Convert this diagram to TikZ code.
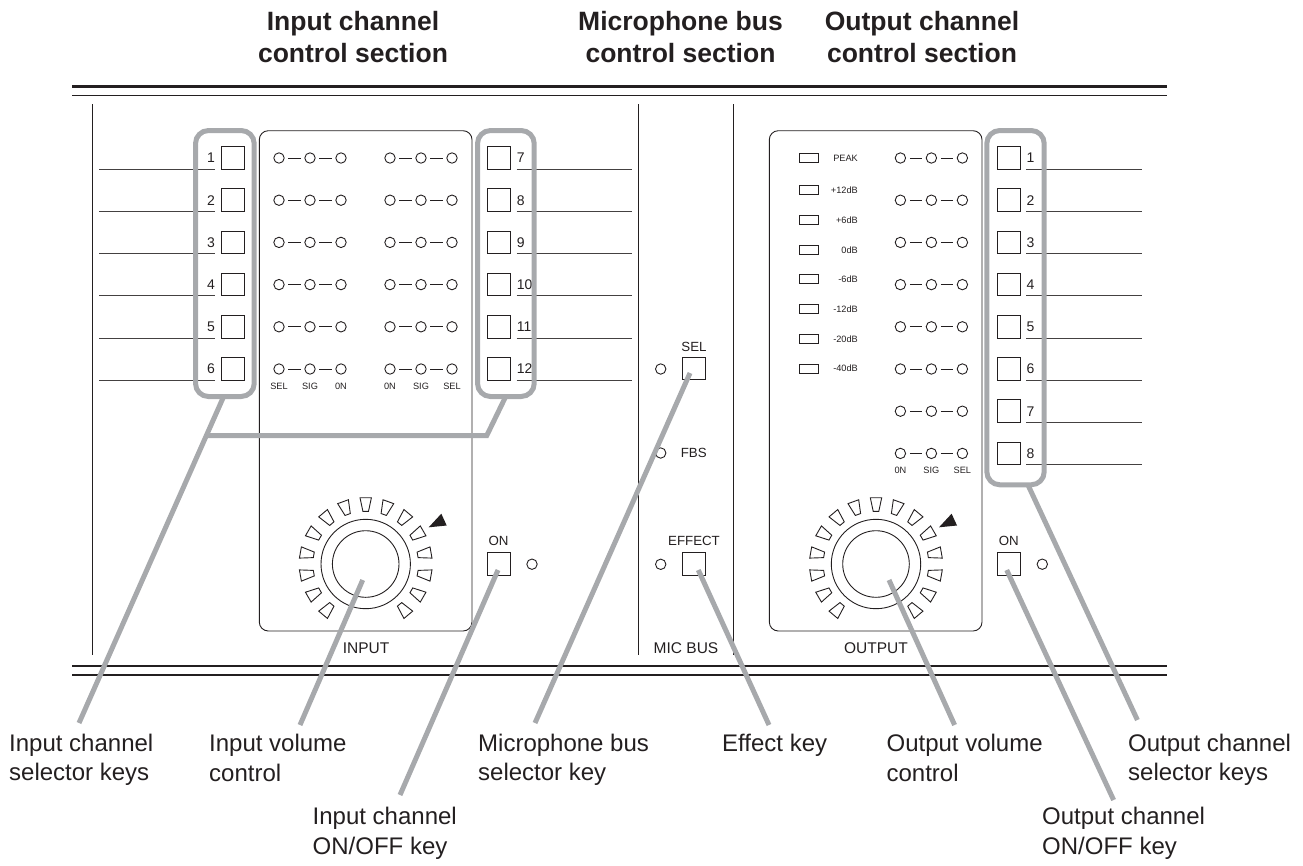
\documentclass[tikz,border=0pt]{standalone}
\usepackage{fontspec}
\setmainfont{Liberation Sans}
\usetikzlibrary{positioning,calc}
\definecolor{inkc}{HTML}{231F20}
\definecolor{callc}{HTML}{A7A9AC}
\tikzset{
  keybox/.style={draw=inkc,line width=1pt,minimum size=22.6pt,inner sep=0pt,outer sep=0pt},
  led/.style={circle,draw=inkc,line width=0.9pt,minimum size=10.4pt,inner sep=0pt,outer sep=0pt},
  ledlink/.style={draw=inkc,line width=0.9pt,shorten <=4.2pt,shorten >=4.2pt},
  meter/.style={draw=inkc,line width=1pt,minimum width=19pt,minimum height=9pt,inner sep=0pt,outer sep=0pt},
  leader/.style={draw=inkc!85,line width=1pt},
  panel/.style={draw=inkc,line width=0.9pt,rounded corners=9pt},
  divider/.style={draw=inkc,line width=1pt},
  callout/.style={draw=callc,line width=5pt},
  callbox/.style={draw=callc,line width=5pt,rounded corners=13pt},
  tiny/.style={font=\fontsize{9.2}{10}\selectfont,text=inkc,inner sep=0pt},
  keynum/.style={font=\fontsize{14}{16}\selectfont,text=inkc,inner sep=0pt},
  small/.style={font=\fontsize{13.3}{15}\selectfont,text=inkc,inner sep=0pt},
  sect/.style={font=\fontsize{15.5}{17}\selectfont,text=inkc,inner sep=0pt},
  head/.style={font=\bfseries\fontsize{26.5}{32}\selectfont,text=inkc,align=center,inner sep=0pt},
  caption/.style={font=\fontsize{24}{29.5}\selectfont,text=inkc,align=left,inner sep=0pt,anchor=west},
}
\begin{document}
\begin{tikzpicture}[x=1pt,y=-1pt]
\useasboundingbox (0,0) rectangle (1303,865);

% Section titles
\node[head] (headin) at (353,37.5) {Input channel\\control section};
\node[head] (headmic) at (680.5,37.5) {Microphone bus\\control section};
\node[head] (headout) at (922,37.5) {Output channel\\control section};

% Rails and dividers
\draw[inkc,line width=2.6pt] (72,86.5) -- (1167,86.5);
\draw[divider,line width=1.2pt] (72,95.7) -- (1167,95.7);
\draw[divider,line width=1.2pt] (72,666) -- (1167,666);
\draw[inkc,line width=2.6pt] (72,675) -- (1167,675);
\foreach \x in {92.7,638.3,733.3}
  \draw[divider] (\x,104) -- (\x,655);

% Panels
\draw[panel] (259.3,130.7) rectangle (472,631);
\draw[panel] (769.3,130.7) rectangle (982,631);
\node[sect] (inputlab) at (366,648.5) {INPUT};
\node[sect] (micbuslab) at (686,648.5) {MIC BUS};
\node[sect] (outputlab) at (876,648.5) {OUTPUT};

% Input keys
\foreach \n [evaluate=\n as \y using 158+42.2*(\n-1)] in {1,...,6}
{
  \node[keybox] (inkey\n) at (232.7,\y) {};
  \node[keynum,anchor=east] (innum\n) at (215,\y) {\n};
  \draw[leader] (99.3,\y+11.2) -- (215,\y+11.2);
}
\foreach \n [evaluate=\n as \y using 158+42.2*(\n-7)] in {7,...,12}
{
  \node[keybox] (inkey\n) at (498.7,\y) {};
  \node[keynum,anchor=west] (innum\n) at (516.7,\y) {\n};
  \draw[leader] (516.7,\y+11.2) -- (632,\y+11.2);
}

% Output keys
\foreach \n [evaluate=\n as \y using 158+42.2*(\n-1)] in {1,...,8}
{
  \node[keybox] (outkey\n) at (1008.8,\y) {};
  \node[keynum,anchor=west] (outnum\n) at (1026.4,\y) {\n};
  \draw[leader] (1026.4,\y+11.2) -- (1142,\y+11.2);
}

% Signal lamps
\foreach \n [evaluate=\n as \y using 158+42.2*(\n-1)] in {1,...,8}
  \foreach \x/\col in {279/a,390/b,900.4/c}
  {
    \pgfmathtruncatemacro{\shown}{(\n<7)||(\x>800)}
    \ifnum\shown=1
      \node[led] (\col\n l) at (\x,\y) {};
      \node[led] (\col\n m) at (\x+31,\y) {};
      \node[led] (\col\n r) at (\x+62,\y) {};
      \draw[ledlink] (\col\n l) -- (\col\n m);
      \draw[ledlink] (\col\n m) -- (\col\n r);
    \fi
  }
\foreach \x/\t [count=\i] in {279/SEL,310/SIG,341/0N,390/0N,421/SIG,452/SEL}
  \node[tiny] (inled\i) at (\x,386) {\t};
\foreach \x/\t [count=\i] in {900.4/0N,931.4/SIG,962.4/SEL}
  \node[tiny] (outled\i) at (\x,470) {\t};

% Level meter
\foreach \y/\t [count=\i] in {158/PEAK,190/+12dB,220/+6dB,250/0dB,279.3/-6dB,309.3/-12dB,339.3/-20dB,368.7/-40dB}
{
  \node[meter] (meter\i) at (809.3,\y) {};
  \node[tiny,anchor=east] (meterlab\i) at (858,\y) {\t};
}

% Volume knobs
\foreach \cx/\name in {365.7/inknob,876/outknob}
{
  \begin{scope}[shift={(\cx,564)}]
    \draw[inkc,line width=0.9pt] (0,0) circle[radius=44.7pt];
    \draw[inkc,line width=0.9pt] (0,0) circle[radius=33.3pt];
    \foreach \a in {-140,-120,...,140}
      \draw[inkc,line width=0.9pt,rotate=\a] (-5.7,-66.3) -- (5.7,-66.3) -- (2.8,-52.7) -- (-2.8,-52.7) -- cycle;
    \fill[inkc] (63,-36.7) -- (75.6,-50.3) -- (81,-38.5) -- cycle;
  \end{scope}
}

% ON keys
\node[keybox] (inon) at (499,564.2) {};
\node[small] (inonlab) at (498.5,541) {ON};
\node[led] (inonled) at (532,564.2) {};
\node[keybox] (outon) at (1008.8,564.2) {};
\node[small] (outonlab) at (1008.8,541) {ON};
\node[led] (outonled) at (1042.3,564.2) {};

% Microphone bus
\node[keybox] (miksel) at (693.8,368.5) {};
\node[small] (mikssellab) at (694,346.7) {SEL};
\node[led] (mikselled) at (660.7,369) {};
\node[led] (fbsled) at (660.7,453) {};
\node[small] (fbslab) at (693.7,453) {FBS};
\node[keybox] (effkey) at (693.8,564) {};
\node[small] (efflab) at (694,541) {EFFECT};
\node[led] (effled) at (660.7,564.3) {};

% Callout ends
\coordinate (inselA) at (223,398);
\coordinate (inselB) at (79,723);
\coordinate (injoinA) at (207,435.7);
\coordinate (injoinB) at (486.7,435.7);
\coordinate (injoinC) at (505,398);
\coordinate (involA) at (362.7,580);
\coordinate (involB) at (300,725);
\coordinate (inonA) at (498,570);
\coordinate (inonB) at (400,795);
\coordinate (mikA) at (690,373);
\coordinate (mikB) at (535,723);
\coordinate (effA) at (698.3,570);
\coordinate (effB) at (769,725);
\coordinate (outvolA) at (889,580);
\coordinate (outvolB) at (954.6,725);
\coordinate (outonA) at (1006.7,570);
\coordinate (outonB) at (1113.6,800);
\coordinate (outselA) at (1028,485);
\coordinate (outselB) at (1137.4,720);

% Callouts
\draw[callbox] (195.5,130.5) rectangle (254.2,396.5);
\draw[callbox] (477.5,130.5) rectangle (534.2,396.5);
\draw[callbox] (986.8,130.5) rectangle (1044.2,484.8);
\draw[callout] (inselA) -- (inselB);
\draw[callout] (injoinA) -- (injoinB) -- (injoinC);
\draw[callout] (involA) -- (involB);
\draw[callout] (inonA) -- (inonB);
\draw[callout] (mikA) -- (mikB);
\draw[callout] (effA) -- (effB);
\draw[callout] (outvolA) -- (outvolB);
\draw[callout] (outonA) -- (outonB);
\draw[callout] (outselA) -- (outselB);

% Captions
\node[caption] (capinsel) at (9,760) {Input channel\\selector keys};
\node[caption] (capinvol) at (209,758) {Input volume\\control};
\node[caption] (capinon) at (312.5,833.5) {Input channel\\ON/OFF key};
\node[caption] (capmik) at (478,760) {Microphone bus\\selector key};
\node[caption] (capeff) at (722,745) {Effect key};
\node[caption] (capoutvol) at (886.4,758) {Output volume\\control};
\node[caption] (capoutsel) at (1128,760) {Output channel\\selector keys};
\node[caption] (capouton) at (1042,833.5) {Output channel\\ON/OFF key};

\end{tikzpicture}
\end{document}
